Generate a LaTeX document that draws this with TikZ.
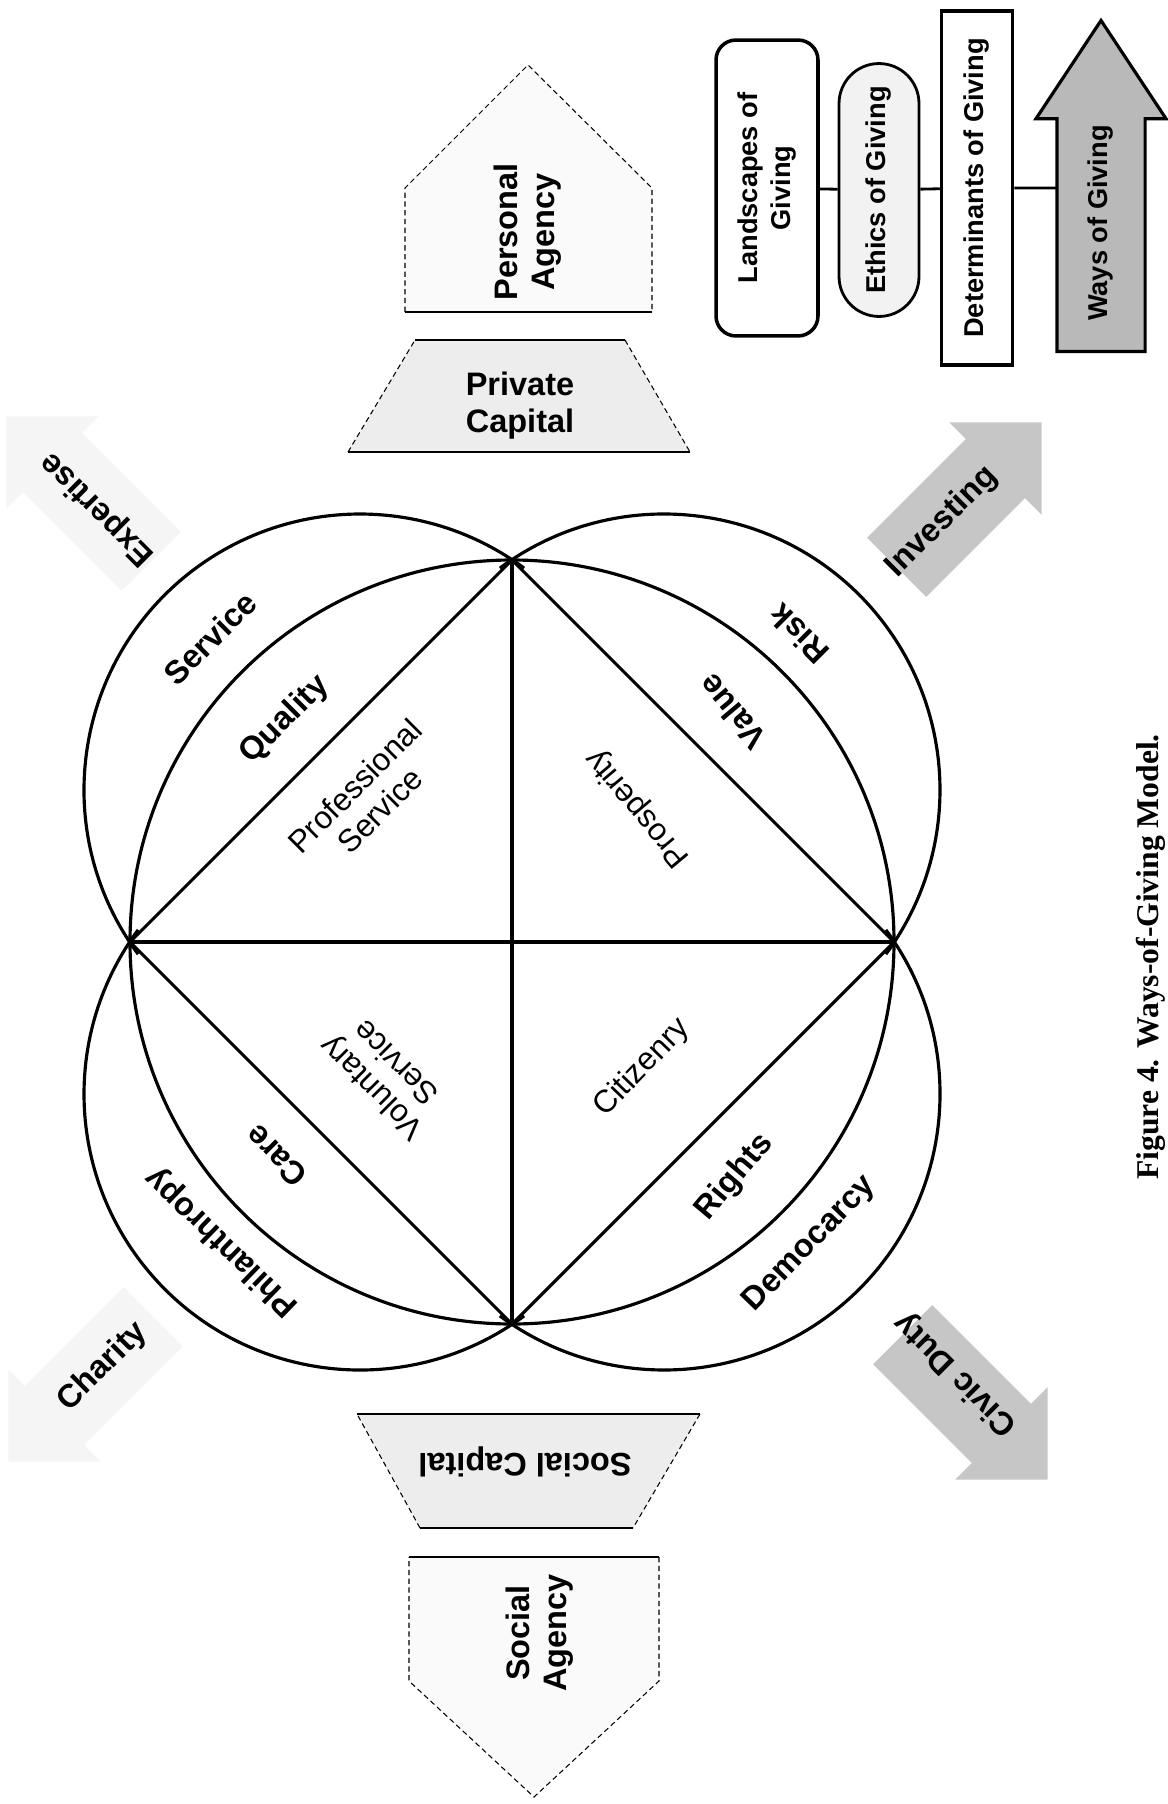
\documentclass[tikz,border=0pt]{standalone}
\usepackage{fontspec}
\setmainfont{Liberation Sans}
\newfontfamily\captionserif{Liberation Serif}
\usepackage{tikz}
\usetikzlibrary{shapes.geometric, shapes.arrows, shapes.misc, backgrounds}

\tikzset{
  ring/.style={line width=1.8pt},
  spoke/.style={line width=1.8pt, line join=round},
  boldlbl/.style={font=\fontsize{18.5}{21}\selectfont\bfseries, align=center, inner sep=1pt},
  thinlbl/.style={font=\fontsize{18}{20}\selectfont, align=center, inner sep=1pt},
  flowarrow/.style={single arrow, single arrow tip angle=90, single arrow head extend=0.47cm,
    minimum height=4.1cm, inner xsep=0pt, inner ysep=0.83cm, draw=none},
  legbox/.style={font=\fontsize{15.5}{19}\selectfont\bfseries, align=center, rotate=90, inner sep=2pt},
  sidedash/.style={densely dashed, line width=0.6pt},
  solidedge/.style={line width=1.5pt}
}

\begin{document}
\begin{tikzpicture}[x=0.02cm, y=-0.02cm]
\useasboundingbox (0,0) rectangle (1167,1804);

% Diamond corners and circle centres
\coordinate (c) at (512,942);
\coordinate (t) at (512,560);
\coordinate (b) at (512,1324);
\coordinate (l) at (130,942);
\coordinate (r) at (894,942);
\coordinate (ctl) at (360,790);
\coordinate (ctr) at (664,790);
\coordinate (cbl) at (360,1094);
\coordinate (cbr) at (664,1094);

% Diagonal arrows
\node[flowarrow, fill=gray!8, rotate=135, anchor=tip] (expertarrow) at (6,416) {};
\node[flowarrow, fill=gray!45, rotate=45, anchor=tip] (investarrow) at (1042,422) {};
\node[flowarrow, fill=gray!45, rotate=135, shape border rotate=180, anchor=tip] (civicarrow) at (1048,1480) {};
\node[flowarrow, fill=gray!8, rotate=45, shape border rotate=180, anchor=tip] (charityarrow) at (8,1462) {};

% Inner circle and the four outer arcs
\draw[ring] (c) circle[radius=382];
\draw[ring] (ctl) ++(143.5:276) arc[start angle=143.5, end angle=306.5, radius=276];
\draw[ring] (ctr) ++(233.5:276) arc[start angle=233.5, end angle=396.5, radius=276];
\draw[ring] (cbr) ++(-36.5:276) arc[start angle=-36.5, end angle=126.5, radius=276];
\draw[ring] (cbl) ++(53.5:276) arc[start angle=53.5, end angle=216.5, radius=276];

% Diamond with cross
\draw[spoke] (t) -- (b);
\draw[spoke] (l) -- (r);
\draw[spoke] (t) -- (l) -- (b) -- (r) -- cycle;

% Labels in the rings
\node[boldlbl, rotate=45] (service) at (210,638) {Service};
\node[boldlbl, rotate=45] (quality) at (285,720) {Quality};
\node[thinlbl, rotate=45] (profserv) at (367,798) {Professional\\Service};
\node[boldlbl, rotate=135] (risk) at (799,634) {Risk};
\node[boldlbl, rotate=130] (value) at (732,712) {Value};
\node[thinlbl, rotate=130] (prosperity) at (638,808) {Prosperity};
\node[thinlbl, rotate=135] (volserv) at (383,1076) {Voluntary\\Service};
\node[boldlbl, rotate=135] (care) at (276,1156) {Care};
\node[boldlbl, rotate=136] (philanthropy) at (222,1242) {Philanthropy};
\node[thinlbl, rotate=46] (citizenry) at (642,1068) {Citizenry};
\node[boldlbl, rotate=50] (rights) at (735,1177) {Rights};
\node[boldlbl, rotate=46] (democarcy) at (810,1244) {Democarcy};

% Labels on the arrows
\node[boldlbl, rotate=135] (expertise) at (98,509) {Expertise};
\node[boldlbl, rotate=45] (investing) at (942,522) {Investing};
\node[boldlbl, rotate=135] (civic) at (956,1374) {Civic Duty};
\node[boldlbl, rotate=45] (charity) at (103,1367) {Charity};

% Personal agency / private capital
\fill[gray!4] (405,312) -- (405,188) -- (528,65) -- (652,188) -- (652,312) -- cycle;
\draw[sidedash] (405,312) -- (405,188) -- (528,65) -- (652,188) -- (652,312);
\draw[solidedge] (405,312) -- (652,312);
\node[boldlbl, rotate=90] (persagency) at (528,232) {Personal\\Agency};

\fill[gray!14] (415,340) -- (625,340) -- (690,452) -- (348,452) -- cycle;
\draw[sidedash] (625,340) -- (690,452) (348,452) -- (415,340);
\draw[solidedge] (415,340) -- (625,340) (348,452) -- (690,452);
\node[boldlbl] (privcapital) at (520,406) {Private\\Capital};

% Social capital / social agency
\fill[gray!14] (357,1414) -- (700,1414) -- (633,1528) -- (420,1528) -- cycle;
\draw[sidedash] (700,1414) -- (633,1528) (420,1528) -- (357,1414);
\draw[solidedge] (357,1414) -- (700,1414) (420,1528) -- (633,1528);
\node[boldlbl, rotate=180] (soccapital) at (525,1462) {Social Capital};

\fill[gray!4] (409,1557) -- (659,1557) -- (659,1681) -- (534,1797) -- (409,1681) -- cycle;
\draw[sidedash] (659,1557) -- (659,1681) -- (534,1797) -- (409,1681) -- (409,1557);
\draw[solidedge] (409,1557) -- (659,1557);
\node[boldlbl, rotate=90] (socagency) at (540,1633) {Social\\Agency};

% Legend
\node[legbox, draw, line width=2pt, rounded corners=0.4cm, minimum width=5.92cm, minimum height=2.04cm] (land) at (767,188) {Landscapes of\\Giving};
\node[legbox, draw, rounded rectangle, fill=gray!10, line width=1.6pt, minimum width=5.2cm, minimum height=1.6cm] (eth) at (879,190) {Ethics of Giving};
\node[legbox, draw, line width=2pt, minimum width=7.08cm, minimum height=1.42cm] (det) at (977,188) {Determinants of Giving};
\node[single arrow, draw, line width=1.8pt, fill=gray!55, rotate=90, anchor=tail, single arrow tip angle=67,
  single arrow head extend=0.42cm, minimum height=6.62cm, inner xsep=0pt, inner ysep=0.85cm] (waysarrow) at (1101,353) {};
\node[legbox] (ways) at (1101,223) {Ways of Giving};
\begin{scope}[on background layer]
\draw[line width=1.6pt] (land) -- (eth) (eth) -- (det) (det) -- (det -| waysarrow);
\end{scope}

% Caption
\node[font=\captionserif\fontsize{18}{20}\selectfont\bfseries, rotate=90] (caption) at (1151,957) {Figure 4. Ways-of-Giving Model.};
\end{tikzpicture}
\end{document}
